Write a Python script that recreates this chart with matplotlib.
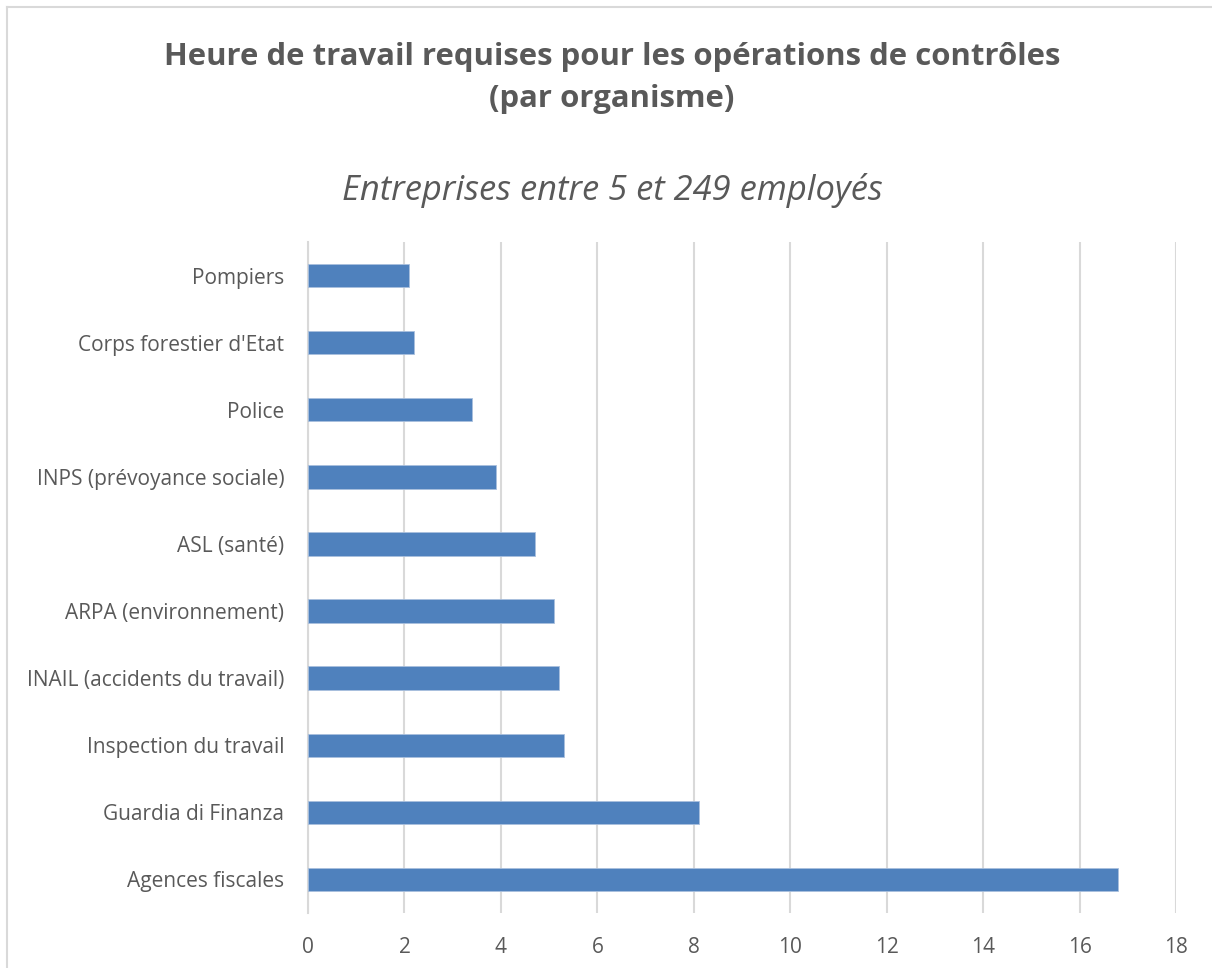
import matplotlib.pyplot as plt
from matplotlib.lines import Line2D

# données
organismes = [
    "Agences fiscales",
    "Guardia di Finanza",
    "Inspection du travail",
    "INAIL (accidents du travail)",
    "ARPA (environnement)",
    "ASL (santé)",
    "INPS (prévoyance sociale)",
    "Police",
    "Corps forestier d'Etat",
    "Pompiers",
]
heures = [16.8, 8.1, 5.3, 5.2, 5.1, 4.7, 3.9, 3.4, 2.2, 2.1]
ticks_x = [0, 2, 4, 6, 8, 10, 12, 14, 16, 18]

plt.rcParams['font.family'] = ['Open Sans', 'DejaVu Sans']
gris_txt = "#595959"
gris_grille = "#d9d9d9"

W, H = 1212, 968
fig = plt.figure(figsize=(W / 100, H / 100), dpi=100)
ax = fig.add_axes([308 / W, 1 - 913 / H, (1176 - 308) / W, (913 - 242) / H])

ax.barh(range(len(organismes)), heures, height=0.35, color="#4f81bd",
        edgecolor="#a9c0de", linewidth=0.6, zorder=3)

ax.set_xlim(0, 18)
ax.set_ylim(-0.5, len(organismes) - 0.5)
ax.set_xticks(ticks_x)
ax.set_xticklabels([str(t) for t in ticks_x])
ax.set_yticks(range(len(organismes)))
ax.set_yticklabels(organismes)
ax.tick_params(axis="both", length=0, labelsize=15, colors=gris_txt)
ax.tick_params(axis="x", pad=17)
ax.tick_params(axis="y", pad=17)

ax.grid(axis="x", color=gris_grille, linewidth=1.5, zorder=0)
for s in ["top", "right", "bottom"]:
    ax.spines[s].set_visible(False)
ax.spines["left"].set_color(gris_grille)
ax.spines["left"].set_linewidth(1.5)

fig.text(612 / W, 1 - 78 / H,
         "Heure de travail requises pour les opérations de contrôles\n(par organisme)",
         ha="center", va="center", fontsize=22.4, fontweight="bold",
         color=gris_txt, linespacing=1.5)
fig.text(612 / W, 1 - 190 / H, "Entreprises entre 5 et 249 employés",
         ha="center", va="center", fontsize=24.8, style="italic", color=gris_txt)

# cadre du graphique (bords gauche et haut visibles)
fig.add_artist(Line2D([7 / W, 7 / W], [0, 1 - 7 / H], transform=fig.transFigure,
                      color=gris_grille, linewidth=1.5))
fig.add_artist(Line2D([7 / W, 1], [1 - 7 / H, 1 - 7 / H], transform=fig.transFigure,
                      color=gris_grille, linewidth=1.5))

fig.savefig("out.png", dpi=100)
